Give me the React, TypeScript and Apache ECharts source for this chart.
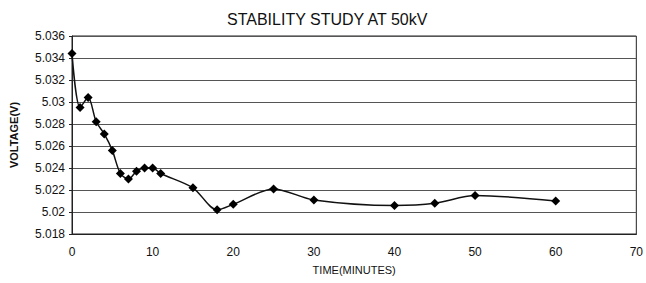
import React, { useEffect, useRef } from "react";
import * as echarts from "echarts";

const times = [0, 1, 2, 3, 4, 5, 6, 7, 8, 9, 10, 11, 15, 18, 20, 25, 30, 40, 45, 50, 60];
const voltages = [
  5.0344, 5.0295, 5.0304, 5.0282, 5.0271, 5.0256, 5.0235, 5.023, 5.0237, 5.024, 5.024,
  5.0235, 5.0222, 5.0202, 5.0207, 5.0221, 5.0211, 5.0206, 5.0208, 5.0215, 5.021,
];
const titleText = "STABILITY STUDY AT 50kV";
const xName = "TIME(MINUTES)";
const yName = "VOLTAGE(V)";

export default function App() {
  const ref = useRef<HTMLDivElement>(null);
  useEffect(() => {
    if (!ref.current) return;
    const chart = echarts.init(ref.current, null, { renderer: "svg" });
    const font = "Liberation Sans, Arial, sans-serif";
    chart.setOption({
      animation: false,
      backgroundColor: "#fff",
      title: {
        text: titleText,
        left: 222,
        top: 6,
        textStyle: { fontFamily: font, fontSize: 16, fontWeight: "normal", color: "#111" },
      },
      grid: {
        left: 70,
        right: 9,
        top: 36,
        bottom: 49,
        show: true,
        borderColor: "#222",
        borderWidth: 1,
      },
      xAxis: {
        type: "value",
        min: 0,
        max: 70,
        interval: 10,
        name: xName,
        nameLocation: "middle",
        nameGap: 30,
        nameTextStyle: { fontFamily: font, fontSize: 11, color: "#111" },
        axisLine: { lineStyle: { color: "#222" } },
        axisTick: { show: false },
        axisLabel: { fontFamily: font, fontSize: 12, color: "#111", margin: 12 },
        splitLine: { show: false },
      },
      yAxis: {
        type: "value",
        min: 5.018,
        max: 5.036,
        interval: 0.002,
        name: yName,
        nameLocation: "middle",
        nameGap: 53,
        nameTextStyle: { fontFamily: font, fontSize: 11, fontWeight: "bold", color: "#111" },
        axisLine: { show: true, lineStyle: { color: "#222" } },
        axisTick: { show: true, inside: false, length: 3, lineStyle: { color: "#222" } },
        axisLabel: {
          fontFamily: font,
          fontSize: 12,
          color: "#111",
          margin: 7,
          formatter: (v: number) => String(parseFloat(v.toFixed(3))),
        },
        splitLine: { show: true, lineStyle: { color: "#555", width: 1 } },
      },
      series: [
        {
          type: "line",
          data: times.map((t, i) => [t, voltages[i]]),
          smooth: 0.3,
          symbol: "diamond",
          symbolSize: 9,
          itemStyle: { color: "#000" },
          lineStyle: { color: "#111", width: 1.5 },
        },
      ],
    });
    return () => chart.dispose();
  }, []);
  return <div ref={ref} style={{ position: "fixed", left: 0, top: 0, width: 646, height: 283 }} />;
}
